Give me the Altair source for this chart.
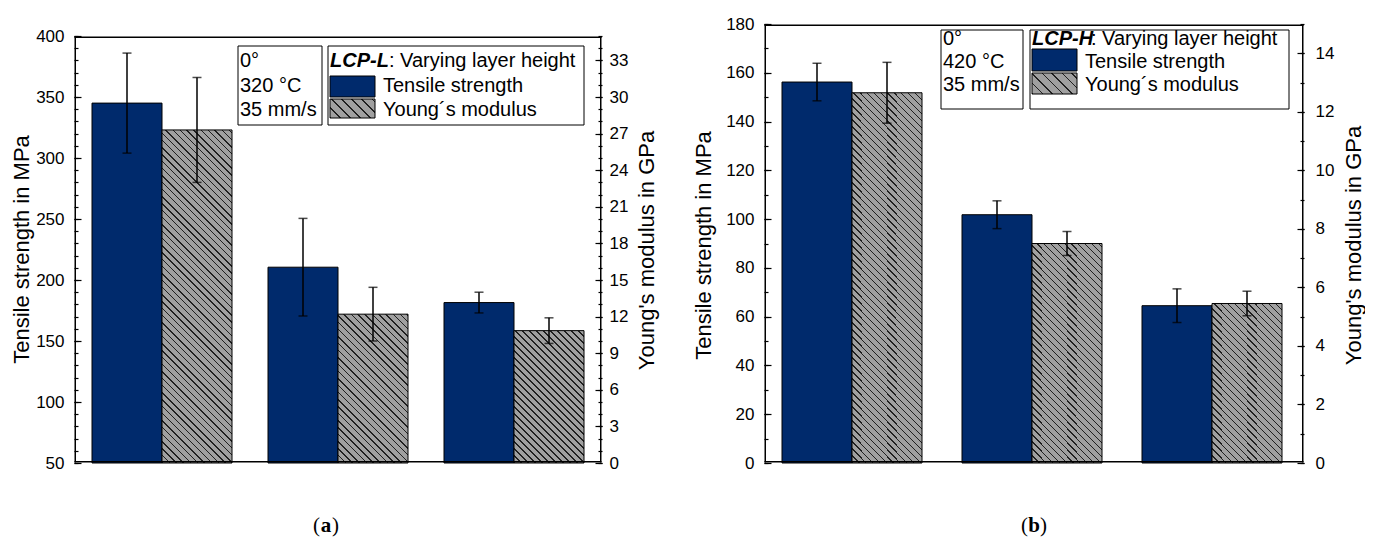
import math

import altair as alt
import pandas as pd

FONT = "Liberation Sans"
SERIF = "Liberation Serif"
NAVY = "#002A6C"
GRAY = "#A0A0A0"
INK = "#202020"

# categories and series
layer_heights = ["0.10 mm", "0.15 mm", "0.20 mm"]
series_names = ["Tensile strength", "Young´s modulus"]

# LCP-L, 320 °C, 35 mm/s
lcp_l_tensile = [345.0, 210.5, 181.5]
lcp_l_tensile_sd = [41.0, 40.0, 8.5]
lcp_l_modulus = [27.3, 12.2, 10.85]
lcp_l_modulus_sd = [4.3, 2.2, 1.05]

# LCP-H, 420 °C, 35 mm/s
lcp_h_tensile = [156.2, 101.8, 64.5]
lcp_h_tensile_sd = [7.7, 5.7, 6.9]
lcp_h_modulus = [12.65, 7.5, 5.45]
lcp_h_modulus_sd = [1.04, 0.41, 0.42]

# axis tick values
lcp_l_tensile_ticks = [50, 100, 150, 200, 250, 300, 350, 400]
lcp_l_tensile_minor = list(range(50, 401, 10))
lcp_l_modulus_ticks = [0, 3, 6, 9, 12, 15, 18, 21, 24, 27, 30, 33]
lcp_l_modulus_minor = list(range(0, 36, 1))
lcp_h_tensile_ticks = [0, 20, 40, 60, 80, 100, 120, 140, 160, 180]
lcp_h_tensile_minor = list(range(0, 181, 10))
lcp_h_modulus_ticks = [0, 2, 4, 6, 8, 10, 12, 14]
lcp_h_modulus_minor = list(range(0, 16, 1))

PLOT_H = 439
ONE = pd.DataFrame({"row": [0]})


def hatch_fill(w, h, spacing, line=0.9):
    """Diagonal '\\' hatching as a hard-stop linear gradient for a w x h box."""
    diag = (w + h) / math.sqrt(2)
    period = spacing / math.sqrt(2)
    a = (w + h) / (w * w + h * h)
    stops = []
    pos = 0.0
    while pos < diag:
        t0 = pos / diag
        t1 = min((pos + line) / diag, 1.0)
        t2 = min((pos + period) / diag, 1.0)
        stops += [
            {"offset": round(t0, 5), "color": INK},
            {"offset": round(t1, 5), "color": INK},
            {"offset": round(t1, 5), "color": GRAY},
            {"offset": round(t2, 5), "color": GRAY},
        ]
        pos += period
    return {"gradient": "linear", "x1": 0, "y1": 1, "x2": a * w, "y2": 1 - a * h, "stops": stops}


def text_mark(s, x, y, size=20, align="left", font=FONT, weight="normal", style="normal"):
    return alt.Chart(ONE).mark_text(
        text=s, align=align, baseline="middle", font=font, fontSize=size,
        fontWeight=weight, fontStyle=style, color="black",
    ).encode(x=alt.value(x), y=alt.value(y))


def rect_mark(x0, x1, y0, y1, fill, width=1.0):
    return alt.Chart(ONE).mark_rect(fill=fill, stroke="black", strokeWidth=width).encode(
        x=alt.value(x0), x2=alt.value(x1), y=alt.value(y0), y2=alt.value(y1)
    )


def strip(x0, x1, y0, y1):
    # solid strip used for the plot frame
    return alt.Chart(ONE).mark_rect(fill="#000000", strokeWidth=0).encode(
        x=alt.value(x0), x2=alt.value(x1), y=alt.value(y0), y2=alt.value(y1)
    )


def label_axis(orient, values, title, tx, ty, pad):
    return alt.Axis(
        orient=orient, values=values, ticks=False, grid=False, domain=False,
        labelFont=FONT, labelFontSize=17, labelColor="black", labelPadding=pad,
        labelOverlap=False, labelFlush=False,
        title=title, titleFont=FONT, titleFontSize=22, titleFontWeight="normal",
        titleColor="black", titleAngle=-90, titleAlign="center", titleBaseline="middle",
        titleX=tx, titleY=ty,
    )


def tick_axis(orient, values, size):
    # ticks drawn inward: axis shifted into the plot by its own tick length
    return alt.Axis(
        orient=orient, values=values, labels=False, domain=False, grid=False, ticks=True,
        tickSize=size, tickColor="black", tickWidth=1.2, offset=-size, title=None, zindex=1,
    )


def build_panel(p):
    W = p["width"]
    gap = p["top_gap"]
    t_lo, t_hi = p["t_span"]
    m_hi = p["m_span"]
    km = (PLOT_H - gap) / m_hi
    t_scale = alt.Scale(domain=[t_lo, t_hi], nice=False, zero=False, rangeMax=gap)
    m_scale = alt.Scale(domain=[0, m_hi], nice=False, zero=False, rangeMax=gap)
    pad = p["band_pad"]
    x_scale = alt.Scale(domain=layer_heights, paddingInner=pad, paddingOuter=pad / 2)
    xo = alt.XOffset("series:N", scale=alt.Scale(domain=series_names, paddingInner=0, paddingOuter=0))
    x_axis = alt.Axis(
        orient="bottom", title=None, labelAngle=0, ticks=False, grid=False, domain=False,
        labelFont=FONT, labelFontSize=18, labelColor="black", labelPadding=11,
    )

    def xenc(axis=None):
        return alt.X("layer:N", scale=x_scale, axis=axis)

    t_df = pd.DataFrame({"layer": layer_heights, "series": series_names[0],
                         "value": p["tensile"], "sd": p["tensile_sd"]})
    m_df = pd.DataFrame({"layer": layer_heights, "series": series_names[1],
                         "value": p["modulus"], "sd": p["modulus_sd"]})

    def whiskers(df, scale, orient, major, minor):
        base = alt.Chart(df).transform_calculate(lo="datum.value - datum.sd", hi="datum.value + datum.sd")
        stem = base.mark_rule(color="black", strokeWidth=1.5).encode(
            x=xenc(), xOffset=xo,
            y=alt.Y("lo:Q", scale=scale, axis=tick_axis(orient, major, 7)), y2="hi:Q",
        )
        caps = base.transform_fold(["lo", "hi"], as_=["end", "pos"]).mark_tick(
            color="black", thickness=1.5, size=9, orient="horizontal"
        ).encode(
            x=xenc(), xOffset=xo,
            y=alt.Y("pos:Q", scale=scale, axis=tick_axis(orient, minor, 4)),
        )
        return stem, caps

    # tensile bars start at the bottom of the strength axis
    t_bars = alt.Chart(t_df).transform_calculate(base=str(t_lo)).mark_bar(
        fill=NAVY, stroke="black", strokeWidth=1
    ).encode(
        x=xenc(x_axis), xOffset=xo,
        y=alt.Y("value:Q", scale=t_scale,
                axis=label_axis("left", p["t_ticks"], "Tensile strength in MPa", *p["t_title"], 10)),
        y2="base:Q",
    )
    t_stem, t_caps = whiskers(t_df, t_scale, "left", p["t_ticks"], p["t_minor"])
    tensile = alt.layer(t_bars, t_stem, t_caps).resolve_axis(y="independent")

    bar_w = W / 3 * (1 - pad) / 2
    m_layers = []
    for i, lh in enumerate(layer_heights):
        axis = (label_axis("right", p["m_ticks"], "Young's modulus in GPa", *p["m_title"], p["m_pad"])
                if i == 0 else None)
        m_layers.append(
            alt.Chart(m_df).transform_filter(alt.datum.layer == lh).mark_bar(
                fill=hatch_fill(bar_w, p["modulus"][i] * km, 7), stroke="black", strokeWidth=1
            ).encode(x=xenc(), xOffset=xo, y=alt.Y("value:Q", scale=m_scale, axis=axis))
        )
    m_stem, m_caps = whiskers(m_df, m_scale, "right", p["m_ticks"], p["m_minor"])
    modulus = alt.layer(*m_layers, m_stem, m_caps).resolve_axis(y="independent")

    # plot frame: four solid strips lying just inside the plot edges
    a, b = 0.5, 2.0
    frame = [
        strip(a, W - a, gap + a, gap + b),
        strip(a, W - a, PLOT_H - b, PLOT_H - a),
        strip(a, b, gap + a, PLOT_H - a),
        strip(W - b, W - a, gap + a, PLOT_H - a),
    ]

    # condition box and series key
    bx = p["box1"]
    kx = p["box2"]
    rows = p["rows"]
    sw = p["swatches"]
    legend = [
        rect_mark(bx[0], bx[1], bx[2], bx[3], "white"),
        rect_mark(kx[0], kx[1], kx[2], kx[3], "white"),
    ]
    for s, ry in zip(p["conditions"], p["cond_rows"]):
        legend.append(text_mark(s, bx[0] + 2, ry))
    legend += [
        text_mark(p["material"], kx[0] + 2, rows[0], weight="bold", style="italic"),
        text_mark(": Varying layer height", kx[0] + 2 + p["material_w"], rows[0]),
        rect_mark(kx[0] + 2, kx[0] + 47, sw[0][0], sw[0][1], NAVY),
        rect_mark(kx[0] + 2, kx[0] + 47, sw[1][0], sw[1][1],
                  hatch_fill(45, sw[1][1] - sw[1][0], 10)),
        text_mark(series_names[0], kx[0] + 55, rows[1]),
        text_mark(series_names[1], kx[0] + 55, rows[2]),
    ]
    lx, ly = p["letter_pos"]
    legend += [
        text_mark("(", lx - 6, ly, size=21, align="right", font=SERIF),
        text_mark(p["letter"], lx, ly, size=21, align="center", font=SERIF, weight="bold"),
        text_mark(")", lx + 6, ly, size=21, align="left", font=SERIF),
    ]

    return alt.layer(tensile, modulus, *frame, *legend).resolve_scale(y="independent").properties(
        width=W, height=PLOT_H
    )


left = build_panel({
    "width": 528, "top_gap": 12, "band_pad": 36 / 176,
    "t_span": (50, 400), "m_span": 35,
    "tensile": lcp_l_tensile, "tensile_sd": lcp_l_tensile_sd,
    "modulus": lcp_l_modulus, "modulus_sd": lcp_l_modulus_sd,
    "t_ticks": lcp_l_tensile_ticks, "t_minor": lcp_l_tensile_minor,
    "m_ticks": lcp_l_modulus_ticks, "m_minor": lcp_l_modulus_minor,
    "t_title": (-53, 225), "m_title": (44, 226), "m_pad": 7,
    "box1": (164, 248, 22, 101), "box2": (254, 510, 22, 101),
    "conditions": ["0°", "320 °C", "35 mm/s"], "cond_rows": [37, 61.5, 86],
    "material": "LCP-L", "material_w": 59,
    "rows": [37, 62, 86], "swatches": [(52, 73), (75, 94)],
    "letter": "a", "letter_pos": (252, 502),
})

right = build_panel({
    "width": 540, "top_gap": 0, "band_pad": 0.2,
    "t_span": (0, 180), "m_span": 15,
    "tensile": lcp_h_tensile, "tensile_sd": lcp_h_tensile_sd,
    "modulus": lcp_h_modulus, "modulus_sd": lcp_h_modulus_sd,
    "t_ticks": lcp_h_tensile_ticks, "t_minor": lcp_h_tensile_minor,
    "m_ticks": lcp_h_modulus_ticks, "m_minor": lcp_h_modulus_minor,
    "t_title": (-61, 221), "m_title": (49, 221), "m_pad": 11,
    "box1": (177, 259, 6, 85), "box2": (266, 525, 6, 85),
    "conditions": ["0°", "420 °C", "35 mm/s"], "cond_rows": [14.5, 37.5, 60.5],
    "material": "LCP-H", "material_w": 59,
    "rows": [14.5, 37.5, 60.5], "swatches": [(25, 47), (49, 70)],
    "letter": "b", "letter_pos": (270, 502),
})

chart = alt.hconcat(left, right, spacing=33).properties(
    padding={"left": 9, "top": 14, "right": 0, "bottom": 0},
    background="white",
).configure_view(stroke="transparent")

chart.save("out.html", embed_options={"renderer": "svg", "actions": False})
